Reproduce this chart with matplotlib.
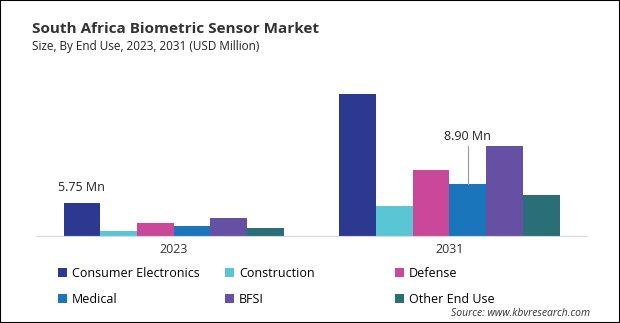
import matplotlib.pyplot as plt
import numpy as np
from matplotlib.patches import Rectangle

plt.rcParams['font.family'] = ['Open Sans', 'DejaVu Sans']

years = ['2023', '2031']
segments = ['Consumer Electronics', 'Construction', 'Defense', 'Medical', 'BFSI', 'Other End Use']
colors = ['#2B3990', '#5BC6D3', '#C9489A', '#1B75BB', '#6650A3', '#2A6E78']
values_2023 = [5.75, 0.86, 2.30, 1.72, 3.10, 1.38]
values_2031 = [24.3, 5.20, 11.4, 8.90, 15.5, 7.10]

fig = plt.figure(figsize=(6.2, 3.23), dpi=100)
ax = fig.add_axes([0.058, 0.269, 0.889, 0.47])

x = np.arange(len(years))
width = 0.1333
bars = []
for i, seg in enumerate(segments):
	vals = [values_2023[i], values_2031[i]]
	bars.append(ax.bar(x + (i - 2.5) * width, vals, width, color=colors[i], label=seg))

ax.set_xlim(-0.5, 1.5)
ax.set_ylim(0, 26)
ax.set_yticks([])
ax.set_xticks(x)
ax.set_xticklabels(years, fontsize=9, color='#333333')
ax.tick_params(axis='x', length=0, pad=5)
for s in ['top', 'right', 'left']:
	ax.spines[s].set_visible(False)
ax.spines['bottom'].set_color('#d9d9d9')

# value labels
ax.text(-2.5 * width, values_2023[0] + 1.4, '5.75 Mn', ha='center', va='bottom', fontsize=9, color='#222222')
mx = 1 + 0.5 * width
ax.plot([mx, mx], [values_2031[3], values_2031[3] + 6.5], color='#999999', lw=0.8)
ax.text(mx, values_2031[3] + 7.0, '8.90 Mn', ha='center', va='bottom', fontsize=9, color='#222222')

fig.text(0.052, 0.91, 'South Africa Biometric Sensor Market', fontsize=11, fontweight='bold', color='#333333', va='center')
fig.text(0.052, 0.855, 'Size, By End Use, 2023, 2031 (USD Million)', fontsize=8.5, color='#222222', va='center')

# legend: one column at a time, row-major like the original
col_x = [0.094, 0.363, 0.637]
for c in range(3):
	hs = [bars[c], bars[c + 3]]
	ls = [segments[c], segments[c + 3]]
	leg = fig.legend(hs, ls, loc='lower left', bbox_to_anchor=(col_x[c], 0.052), frameon=False,
		fontsize=9, handlelength=0.7, handleheight=0.7, handletextpad=0.4,
		labelspacing=1.05, borderaxespad=0, borderpad=0)

fig.text(0.952, 0.028, 'Source: www.kbvresearch.com', fontsize=7.5, style='italic', color='#333333', ha='right', va='center')

fig.patches.append(Rectangle((0, 0), 1, 1, transform=fig.transFigure, fill=False, edgecolor='black', lw=1.5))

plt.savefig('out.png')
